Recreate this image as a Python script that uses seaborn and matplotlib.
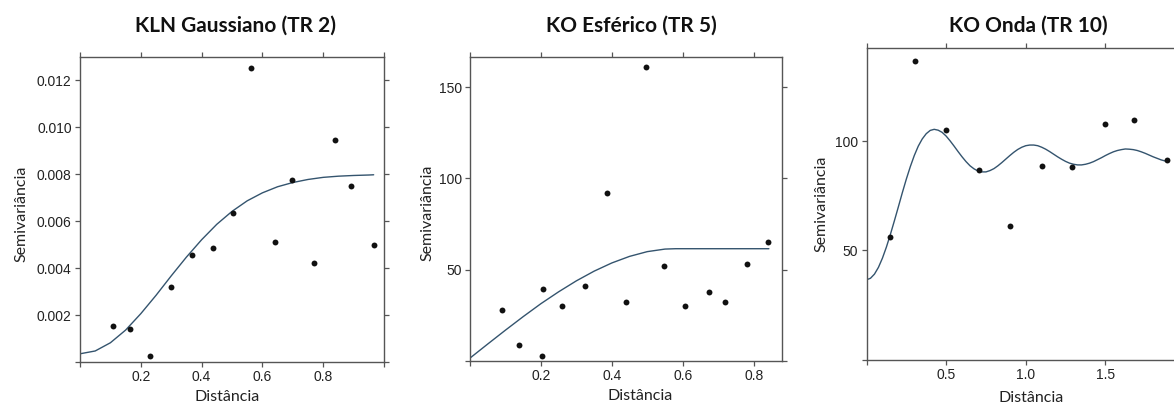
import matplotlib
matplotlib.use("Agg")
import matplotlib.pyplot as plt
import seaborn as sns
import pandas as pd

# ---------------- data ----------------
titles = ["KLN Gaussiano (TR 2)", "KO Esférico (TR 5)", "KO Onda (TR 10)"]
xlabel = "Distância"
ylabel = "Semivariância"

dist1 = [0.108, 0.166, 0.231, 0.299, 0.367, 0.437, 0.504, 0.562, 0.640, 0.699, 0.769, 0.838, 0.893, 0.966]
semi1 = [0.00152, 0.00140, 0.00026, 0.00319, 0.00458, 0.00487, 0.00636, 0.01255, 0.00512, 0.00777,
         0.00420, 0.00946, 0.00749, 0.00498]
model1_x = [0.0, 0.05, 0.10, 0.15, 0.20, 0.25, 0.30, 0.35, 0.40, 0.45, 0.50, 0.55, 0.60, 0.65,
            0.70, 0.75, 0.80, 0.85, 0.90, 0.95, 0.966]
model1_y = [0.00035, 0.00047, 0.00082, 0.00136, 0.00206, 0.00284, 0.00367, 0.00447, 0.00521, 0.00587,
            0.00642, 0.00687, 0.00721, 0.00747, 0.00765, 0.00778, 0.00787, 0.00792, 0.00795, 0.00797, 0.00798]
xticks1 = [0.0, 0.2, 0.4, 0.6, 0.8, 1.0]
xticklabels1 = ["", "0.2", "0.4", "0.6", "0.8", ""]
yticks1 = [0.0, 0.002, 0.004, 0.006, 0.008, 0.010, 0.012]
yticklabels1 = ["", "0.002", "0.004", "0.006", "0.008", "0.010", "0.012"]

dist2 = [0.090, 0.138, 0.204, 0.206, 0.259, 0.324, 0.386, 0.440, 0.497, 0.547, 0.606, 0.673, 0.720, 0.782, 0.840]
semi2 = [28.1, 8.9, 2.6, 39.4, 30.3, 40.9, 91.8, 32.3, 160.9, 51.8, 29.9, 37.6, 32.3, 52.9, 65.0]
model2_x = [0.0, 0.05, 0.10, 0.15, 0.20, 0.25, 0.30, 0.35, 0.40, 0.45, 0.50, 0.55, 0.58, 0.843]
model2_y = [1.6, 9.3, 16.9, 24.3, 31.4, 37.9, 43.9, 49.2, 53.7, 57.3, 59.9, 61.3, 61.5, 61.5]
xticks2 = [0.0, 0.2, 0.4, 0.6, 0.8]
xticklabels2 = ["", "0.2", "0.4", "0.6", "0.8"]
yticks2 = [0, 50, 100, 150]
yticklabels2 = ["", "50", "100", "150"]

dist3 = [0.145, 0.306, 0.499, 0.706, 0.901, 1.099, 1.292, 1.497, 1.677, 1.884]
semi3 = [56.1, 136.9, 105.0, 87.0, 61.2, 88.5, 88.2, 107.8, 109.6, 91.3]
model3_x = [0.0, 0.025, 0.05, 0.075, 0.10, 0.125, 0.15, 0.175, 0.20, 0.225, 0.25, 0.275, 0.30, 0.325,
            0.35, 0.375, 0.40, 0.425, 0.45, 0.475, 0.50, 0.525, 0.55, 0.575, 0.60, 0.625, 0.65, 0.675,
            0.70, 0.725, 0.75, 0.775, 0.80, 0.825, 0.85, 0.875, 0.90, 0.925, 0.95, 0.975, 1.00, 1.025,
            1.05, 1.075, 1.10, 1.125, 1.15, 1.175, 1.20, 1.225, 1.25, 1.275, 1.30, 1.325, 1.35, 1.375,
            1.40, 1.425, 1.45, 1.475, 1.50, 1.525, 1.55, 1.575, 1.60, 1.625, 1.65, 1.675, 1.70, 1.725,
            1.75, 1.775, 1.80, 1.825, 1.85, 1.875, 1.885]
model3_y = [36.5, 37.2, 39.1, 42.2, 46.4, 51.5, 57.3, 63.5, 69.9, 76.4, 82.6, 88.3, 93.4, 97.7,
            101.0, 103.4, 104.9, 105.4, 105.0, 104.0, 102.3, 100.1, 97.7, 95.2, 92.8, 90.6, 88.7, 87.3,
            86.3, 85.9, 85.9, 86.5, 87.4, 88.7, 90.2, 91.8, 93.4, 94.9, 96.2, 97.2, 97.9, 98.2,
            98.2, 97.9, 97.2, 96.3, 95.2, 94.0, 92.8, 91.7, 90.7, 89.9, 89.4, 89.1, 89.1, 89.4,
            89.9, 90.6, 91.5, 92.4, 93.4, 94.3, 95.1, 95.7, 96.1, 96.4, 96.3, 96.1, 95.7, 95.1,
            94.4, 93.6, 92.8, 92.1, 91.4, 90.9, 90.7]
xticks3 = [0.0, 0.5, 1.0, 1.5]
xticklabels3 = ["", "0.5", "1.0", "1.5"]
yticks3 = [0, 50, 100]
yticklabels3 = ["", "50", "100"]

# ---------------- style ----------------
sns.set_theme(style="ticks")
plt.rcParams["font.family"] = ["Liberation Sans", "DejaVu Sans"]

W, H = 1174, 407
fig = plt.figure(figsize=(W / 100, H / 100), dpi=100)

def px_axes(l, t, r, b):
    return fig.add_axes([l / W, 1 - b / H, (r - l) / W, (b - t) / H])

spine_c = "#555555"
line_c = "#34546e"

panels = [
    dict(box=(80, 57, 384, 362), x=dist1, y=semi1, mx=model1_x, my=model1_y,
         xlim=(0, 1.0), ylim=(0, 0.013), xt=xticks1, xtl=xticklabels1, yt=yticks1, ytl=yticklabels1,
         title_xy=(235.5, 31.7), xl=(0.483, -0.092), yl=(-0.171, 0.485)),
    dict(box=(470, 57, 782, 361), x=dist2, y=semi2, mx=model2_x, my=model2_y,
         xlim=(0, 0.88), ylim=(0, 166.5), xt=xticks2, xtl=xticklabels2, yt=yticks2, ytl=yticklabels2,
         title_xy=(631, 31.7), xl=(0.544, -0.092), yl=(-0.113, 0.4875)),
    dict(box=(866.5, 48.3, 1176, 359.5), x=dist3, y=semi3, mx=model3_x, my=model3_y,
         xlim=(0, 1.943), ylim=(0, 142.5), xt=xticks3, xtl=xticklabels3, yt=yticks3, ytl=yticklabels3,
         title_xy=(1028.5, 31.7), xl=(0.531, -0.10), yl=(-0.124, 0.4997)),
]

for p, title in zip(panels, titles):
    ax = px_axes(*p["box"])
    sns.lineplot(x=p["mx"], y=p["my"], ax=ax, color=line_c, linewidth=1.0, sort=False)
    sns.scatterplot(x=p["x"], y=p["y"], ax=ax, color="#111111", s=18, linewidth=0, zorder=3)
    ax.set_xlim(*p["xlim"])
    ax.set_ylim(*p["ylim"])
    ax.set_xticks(p["xt"])
    ax.set_xticklabels(p["xtl"])
    ax.set_yticks(p["yt"])
    ax.set_yticklabels(p["ytl"])
    for s in ax.spines.values():
        s.set_visible(True)
        s.set_color(spine_c)
        s.set_linewidth(1.0)
    ax.tick_params(direction="out", length=3.8, width=0.9, color=spine_c,
                   top=True, right=True, labeltop=False, labelright=False,
                   labelsize=10, labelcolor="#222222", pad=2.2)
    ax.set_xlabel(xlabel, family=["Lato", "DejaVu Sans"], fontsize=11.5, color="#222222")
    ax.set_ylabel(ylabel, family=["Lato", "DejaVu Sans"], fontsize=11.5, color="#222222")
    ax.xaxis.set_label_coords(*p["xl"])
    ax.yaxis.set_label_coords(*p["yl"])
    ax.set_facecolor("white")
    fig.text(p["title_xy"][0] / W, 1 - p["title_xy"][1] / H, title, ha="center", va="baseline",
             family=["Lato", "DejaVu Sans"], fontweight="bold", fontsize=15, color="#111111")

fig.savefig("out.png", dpi=100, facecolor="white")
